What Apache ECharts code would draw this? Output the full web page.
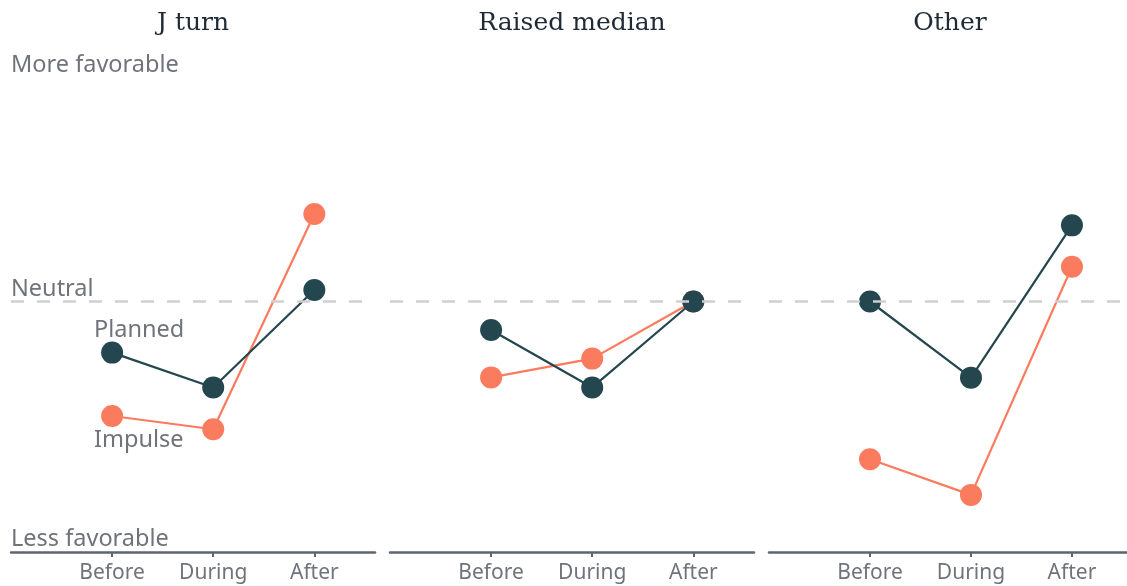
<!DOCTYPE html>
<html>
<head>
<meta charset="utf-8">
<script src="https://cdn.jsdelivr.net/npm/echarts@6/dist/echarts.min.js"></script>
<style>
html,body{margin:0;padding:0;background:#fff;}
#chart{width:1127px;height:586px;}
</style>
</head>
<body>
<div id="chart"></div>
<script>
// ---- Data ----
const categories = ['Before', 'During', 'After'];
const panels = ['J turn', 'Raised median', 'Other'];
// favorability relative to neutral (0 = neutral, +1 more favorable, -1 less favorable)
const plannedJTurn = [-0.204, -0.343, 0.046];
const impulseJTurn = [-0.457, -0.510, 0.349];
const plannedRaised = [-0.114, -0.343, 0.0];
const impulseRaised = [-0.303, -0.228, 0.0];
const plannedOther = [0.0, -0.304, 0.304];
const impulseOther = [-0.630, -0.772, 0.139];
const neutralValue = 0;
const yLabels = ['More favorable', 'Neutral', 'Less favorable'];
const seriesNames = ['Planned', 'Impulse'];

const planned = [plannedJTurn, plannedRaised, plannedOther];
const impulse = [impulseJTurn, impulseRaised, impulseOther];

const DARK = '#24464e';
const ORANGE = '#fa7b5d';
const GRAY_TEXT = '#6f747b';
const AXIS = '#5e6570';
const SANS = '"Noto Sans", Lato, sans-serif';
const SERIF = '"DejaVu Serif", serif';

const gridDefs = [
  {left: 11, width: 364, xmax: 2.6},
  {left: 390, width: 364, xmax: 2.6},
  {left: 769, width: 358, xmax: 2.545}
];

const grids = [], xAxes = [], yAxes = [], series = [];
gridDefs.forEach((g, i) => {
  grids.push({left: g.left, width: g.width, top: 51, bottom: 34});
  xAxes.push({
    gridIndex: i, type: 'value', min: -1, max: g.xmax,
    axisLine: {show: true, onZero: false, lineStyle: {color: AXIS, width: 2.5}},
    axisTick: {show: true, customValues: [0, 1, 2], length: 5, lineStyle: {color: AXIS, width: 2}},
    axisLabel: {customValues: [0, 1, 2], formatter: v => categories[v] || '', color: GRAY_TEXT,
      fontFamily: SANS, fontSize: 21, margin: 11},
    splitLine: {show: false}
  });
  yAxes.push({gridIndex: i, type: 'value', min: -1, max: 1, show: false});
  const mk = (name, vals, color, z) => ({
    name: name, type: 'line', xAxisIndex: i, yAxisIndex: i,
    data: vals.map((v, k) => [k, v]),
    symbol: 'circle', symbolSize: 22, z: z,
    lineStyle: {color: color, width: 2.2},
    itemStyle: {color: color},
    animation: false, silent: true
  });
  series.push(mk(seriesNames[0], planned[i], DARK, 3));
  series.push(mk(seriesNames[1], impulse[i], ORANGE, 2));
  series.push({
    type: 'line', xAxisIndex: i, yAxisIndex: i, data: [], z: 10, animation: false,
    markLine: {
      silent: true, symbol: ['none', 'none'], label: {show: false}, animation: false,
      lineStyle: {color: '#d0d0d0', width: 2.5, type: [13, 13]},
      data: [{yAxis: neutralValue}]
    }
  });
});

const titleCenters = [193, 572, 950];
const graphics = [];
panels.forEach((p, i) => {
  graphics.push({type: 'text', x: titleCenters[i], y: 23,
    style: {text: p, fill: '#1e2a36', font: '400 25px ' + SERIF, textAlign: 'center', textVerticalAlign: 'middle'}});
});
const sideText = (t, x, y) => ({type: 'text', x: x, y: y,
  style: {text: t, fill: GRAY_TEXT, font: '23.5px ' + SANS, textAlign: 'left', textVerticalAlign: 'middle'}});
graphics.push(sideText(yLabels[0], 11, 65));
graphics.push(sideText(yLabels[1], 11, 289));
graphics.push(sideText(yLabels[2], 11, 539));
graphics.push(sideText(seriesNames[0], 94, 330));
graphics.push(sideText(seriesNames[1], 94, 440));

const chart = echarts.init(document.getElementById('chart'), null, {renderer: 'canvas'});
chart.setOption({
  animation: false,
  grid: grids, xAxis: xAxes, yAxis: yAxes, series: series,
  graphic: graphics
});
</script>
</body>
</html>
